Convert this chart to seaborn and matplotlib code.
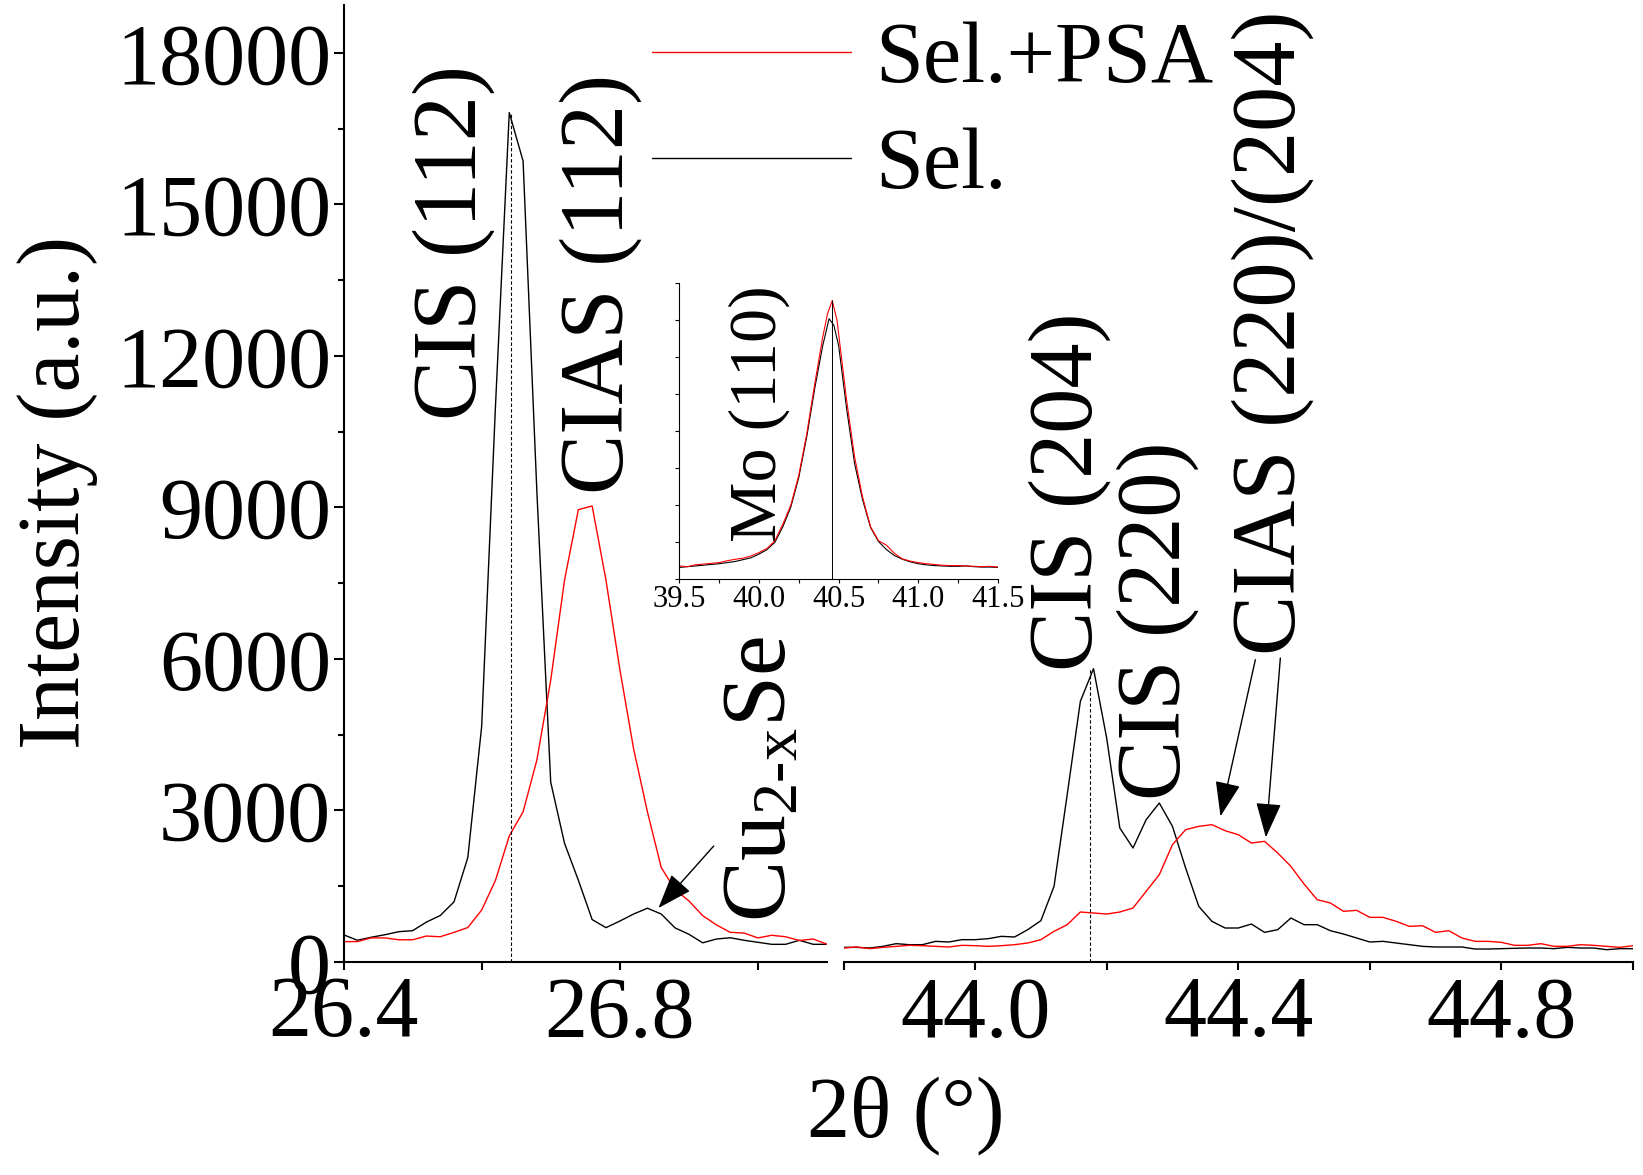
import numpy as np
import pandas as pd
import matplotlib
matplotlib.use('Agg')
import matplotlib.pyplot as plt
import seaborn as sns
from matplotlib.ticker import MultipleLocator, FormatStrFormatter
from matplotlib.lines import Line2D

# ---------------- data ----------------
two_theta_left = [26.40, 26.42, 26.44, 26.46, 26.48, 26.50, 26.52, 26.54, 26.56, 26.58,
                  26.60, 26.62, 26.64, 26.66, 26.68, 26.70, 26.72, 26.74, 26.76, 26.78,
                  26.80, 26.82, 26.84, 26.86, 26.88, 26.90, 26.92, 26.94, 26.96, 26.98,
                  27.00, 27.02, 27.04, 27.06, 27.08, 27.10]
sel_left = [540, 430, 490, 540, 600, 620, 790, 920, 1190, 2070,
            4660, 11000, 16820, 15860, 9300, 3560, 2350, 1620, 840, 680,
            810, 950, 1065, 950, 675, 550, 380, 455, 480, 430,
            390, 350, 350, 430, 350, 350]
selpsa_left = [404, 404, 477, 477, 440, 440, 514, 500, 587, 683,
               1028, 1615, 2496, 2973, 4001, 5580, 7562, 8957, 9030, 7562,
               5800, 4222, 2973, 1872, 1432, 1211, 918, 734, 587, 573,
               477, 529, 500, 426, 455, 352]

two_theta_right = [43.80, 43.82, 43.84, 43.86, 43.88, 43.90, 43.92, 43.94, 43.96, 43.98,
                   44.00, 44.02, 44.04, 44.06, 44.08, 44.10, 44.12, 44.14, 44.16, 44.18,
                   44.20, 44.22, 44.24, 44.26, 44.28, 44.30, 44.32, 44.34, 44.36, 44.38,
                   44.40, 44.42, 44.44, 44.46, 44.48, 44.50, 44.52, 44.54, 44.56, 44.58,
                   44.60, 44.62, 44.64, 44.66, 44.68, 44.70, 44.72, 44.74, 44.76, 44.78,
                   44.80, 44.82, 44.84, 44.86, 44.88, 44.90, 44.92, 44.94, 44.96, 44.98,
                   45.00]
sel_right = [290, 290, 277, 310, 363, 343, 343, 409, 396, 442,
             442, 462, 508, 495, 640, 818, 1498, 3313, 5161, 5808,
             4435, 2653, 2257, 2818, 3148, 2686, 1861, 1102, 805, 673,
             673, 752, 587, 640, 871, 739, 739, 620, 554, 475,
             396, 409, 376, 343, 310, 297, 297, 297, 257, 257,
             264, 271, 277, 277, 264, 290, 277, 277, 244, 264,
             264]
selpsa_right = [277, 297, 264, 290, 310, 330, 323, 310, 297, 330,
                323, 310, 323, 343, 376, 442, 607, 739, 990, 970,
                950, 990, 1069, 1399, 1729, 2323, 2620, 2686, 2719, 2600,
                2521, 2356, 2389, 2158, 1894, 1544, 1234, 1168, 1003, 1023,
                884, 884, 805, 706, 719, 587, 620, 475, 409, 409,
                389, 330, 330, 363, 310, 310, 343, 330, 310, 290,
                323]

# inset: Mo (110) peak (arbitrary units)
two_theta_mo_psa = [39.50, 39.55, 39.60, 39.65, 39.70, 39.75, 39.80, 39.85, 39.90, 39.95,
                    40.00, 40.05, 40.10, 40.15, 40.20, 40.25, 40.30, 40.35, 40.40, 40.43,
                    40.46, 40.49, 40.52, 40.55, 40.60, 40.65, 40.70, 40.75, 40.80, 40.85,
                    40.90, 40.95, 41.00, 41.05, 41.10, 41.15, 41.20, 41.25, 41.30, 41.35,
                    41.40, 41.45, 41.50]
mo_selpsa = [0.36, 0.34, 0.39, 0.41, 0.43, 0.45, 0.50, 0.54, 0.57, 0.63,
             0.72, 0.83, 1.04, 1.49, 2.00, 2.81, 3.93, 5.27, 6.53, 7.16,
             7.52, 6.98, 5.90, 4.83, 3.30, 2.22, 1.42, 1.04, 0.92, 0.70,
             0.55, 0.49, 0.45, 0.42, 0.40, 0.38, 0.37, 0.37, 0.36, 0.35,
             0.34, 0.35, 0.33]
two_theta_mo_sel = [39.50, 39.55, 39.60, 39.65, 39.70, 39.75, 39.80, 39.85, 39.90, 39.95,
                    40.00, 40.05, 40.10, 40.15, 40.20, 40.25, 40.30, 40.35, 40.40, 40.44,
                    40.47, 40.50, 40.55, 40.60, 40.65, 40.70, 40.75, 40.80, 40.85, 40.90,
                    40.95, 41.00, 41.05, 41.10, 41.15, 41.20, 41.25, 41.30, 41.35, 41.40,
                    41.45, 41.50]
mo_sel = [0.32, 0.34, 0.36, 0.38, 0.40, 0.42, 0.45, 0.48, 0.53, 0.58,
          0.68, 0.80, 1.00, 1.42, 1.95, 2.75, 3.85, 5.15, 6.30, 7.03,
          6.85, 6.30, 4.60, 3.12, 2.15, 1.40, 1.02, 0.80, 0.64, 0.54,
          0.47, 0.42, 0.39, 0.37, 0.36, 0.35, 0.35, 0.36, 0.34, 0.33,
          0.33, 0.32]

# reference peak positions (dashed / solid guide lines)
ref_peak_x = [26.643, 44.174]
ref_peak_top = [16820, 5808]
mo_ref_x = 40.46
mo_ref_top = 7.52

series_labels = ['Sel.+PSA', 'Sel.']
series_colors = ['#ff0000', '#000000']

# ---------------- style ----------------
sns.set_theme(style='ticks')
plt.rcParams['font.family'] = ['Liberation Serif', 'DejaVu Serif']
plt.rcParams['mathtext.fontset'] = 'custom'
plt.rcParams['mathtext.rm'] = 'Liberation Serif'
plt.rcParams['mathtext.it'] = 'Liberation Serif:italic'
plt.rcParams['mathtext.bf'] = 'Liberation Serif:bold'
for k in ('text.color', 'axes.labelcolor', 'xtick.color', 'ytick.color', 'axes.edgecolor'):
    plt.rcParams[k] = 'black'

FS = 62      # tick labels, axis titles, legend
FS_ANN = 65  # rotated peak labels
W, H = 1643, 1175
fig = plt.figure(figsize=(W / 100, H / 100), dpi=100)
fig.patch.set_facecolor('white')

bottom = (H - 962) / H
height = (962 - 5) / H
ax1 = fig.add_axes([343.5 / W, bottom, (827 - 343.5) / W, height])
ax2 = fig.add_axes([843.5 / W, bottom, (1633 - 843.5) / W, height])
axin = fig.add_axes([679.3 / W, (H - 579.3) / H, (998 - 679.3) / W, (579.3 - 282.7) / H])
for a in (ax1, ax2, axin):
    a.set_facecolor('none')

lw = 1.0
sns.lineplot(x=two_theta_left, y=sel_left, ax=ax1, color=series_colors[1], lw=lw, estimator=None)
sns.lineplot(x=two_theta_left, y=selpsa_left, ax=ax1, color=series_colors[0], lw=lw, estimator=None)
sns.lineplot(x=two_theta_right, y=sel_right, ax=ax2, color=series_colors[1], lw=lw, estimator=None)
sns.lineplot(x=two_theta_right, y=selpsa_right, ax=ax2, color=series_colors[0], lw=lw, estimator=None)

ax1.vlines(ref_peak_x[0], 0, ref_peak_top[0], colors='black', lw=0.8, linestyles=(0, (3, 2)))
ax2.vlines(ref_peak_x[1], 0, ref_peak_top[1], colors='black', lw=0.8, linestyles=(0, (3, 2)))

ymax = 18950
for a in (ax1, ax2):
    a.set_ylim(0, ymax)
    a.set_xlabel('')
    a.set_ylabel('')
    for s in ('top', 'right'):
        a.spines[s].set_visible(False)
    a.spines['bottom'].set_linewidth(1.5)
    a.spines['left'].set_linewidth(1.5)
    a.xaxis.set_major_locator(MultipleLocator(0.4))
    a.xaxis.set_minor_locator(MultipleLocator(0.2))
    a.xaxis.set_major_formatter(FormatStrFormatter('%.1f'))
    a.tick_params(axis='x', which='both', direction='out', length=6, width=1.5,
                  labelsize=FS, pad=4, colors='black')

ax1.set_xlim(26.4, 27.1)
ax2.set_xlim(43.8, 45.0)

ax1.yaxis.set_major_locator(MultipleLocator(3000))
ax1.yaxis.set_minor_locator(MultipleLocator(1500))
ax1.tick_params(axis='y', which='major', direction='out', length=7, width=1.5,
                labelsize=FS, pad=2, colors='black')
ax1.tick_params(axis='y', which='minor', direction='out', length=4.5, width=1.5, colors='black')
ax2.spines['left'].set_visible(False)
ax2.tick_params(axis='y', which='both', left=False, labelleft=False)

# inset
sns.lineplot(x=two_theta_mo_sel, y=mo_sel, ax=axin, color=series_colors[1], lw=0.8, estimator=None)
sns.lineplot(x=two_theta_mo_psa, y=mo_selpsa, ax=axin, color=series_colors[0], lw=0.8, estimator=None)
axin.vlines(mo_ref_x, 0, mo_ref_top, colors='black', lw=0.7)
axin.set_xlim(39.5, 41.5)
axin.set_ylim(0, 8)
axin.set_xlabel('')
axin.set_ylabel('')
for s in ('top', 'right'):
    axin.spines[s].set_visible(False)
for s in ('left', 'bottom'):
    axin.spines[s].set_linewidth(0.8)
axin.xaxis.set_major_locator(MultipleLocator(0.5))
axin.xaxis.set_minor_locator(MultipleLocator(0.25))
axin.xaxis.set_major_formatter(FormatStrFormatter('%.1f'))
axin.yaxis.set_major_locator(MultipleLocator(1))
axin.tick_params(axis='x', which='both', direction='out', length=3, width=0.8,
                 labelsize=22, pad=1, colors='black')
axin.tick_params(axis='y', which='both', direction='out', length=3, width=0.8,
                 labelleft=False, colors='black')
axin.text(40.0, 1.0, 'Mo (110)', rotation=90, ha='center', va='bottom', fontsize=49)

# peak labels
ax1.text(26.56, 10730, 'CIS (112)', rotation=90, ha='center', va='bottom', fontsize=FS_ANN)
ax1.text(26.772, 9267, 'CIAS (112)', rotation=90, ha='center', va='bottom', fontsize=FS_ANN)
ax1.text(27.007, 792, r'Cu$_{\mathrm{2\text{-}x}}$Se', rotation=90, ha='center', va='bottom', fontsize=66)
ax2.text(44.144, 5770, 'CIS (204)', rotation=90, ha='center', va='bottom', fontsize=FS_ANN)
ax2.text(44.278, 3208, 'CIS (220)', rotation=90, ha='center', va='bottom', fontsize=FS_ANN)
ax2.text(44.453, 6079, 'CIAS (220)/(204)', rotation=90, ha='center', va='bottom', fontsize=FS_ANN)

arrow_kw = dict(arrowstyle='-|>,head_length=0.55,head_width=0.2', color='black', lw=1.0,
                shrinkA=0, shrinkB=0, mutation_scale=40)
ax1.annotate('', xy=(26.856, 1069), xytext=(26.936, 2297), arrowprops=arrow_kw)
ax2.annotate('', xy=(44.373, 2884), xytext=(44.426, 5986), arrowprops=arrow_kw)
ax2.annotate('', xy=(44.442, 2468), xytext=(44.464, 6019), arrowprops=arrow_kw)

# axis titles
fig.text(58 / W, 1 - 492 / H, 'Intensity (a.u.)', rotation=90, ha='center', va='center', fontsize=63)
fig.text(906 / W, 1 - 1116 / H, '2θ (°)', ha='center', va='center', fontsize=FS)

# legend
handles = [Line2D([], [], color=series_colors[0], lw=1.0),
           Line2D([], [], color=series_colors[1], lw=1.0)]
fig.legend(handles, series_labels, loc='upper left', bbox_to_anchor=(652 / W, 0.982),
           frameon=False, fontsize=FS, handlelength=2.31, handletextpad=0.28,
           labelspacing=0.31, borderpad=0, borderaxespad=0)

fig.savefig('out.png', dpi=100, facecolor='white')
